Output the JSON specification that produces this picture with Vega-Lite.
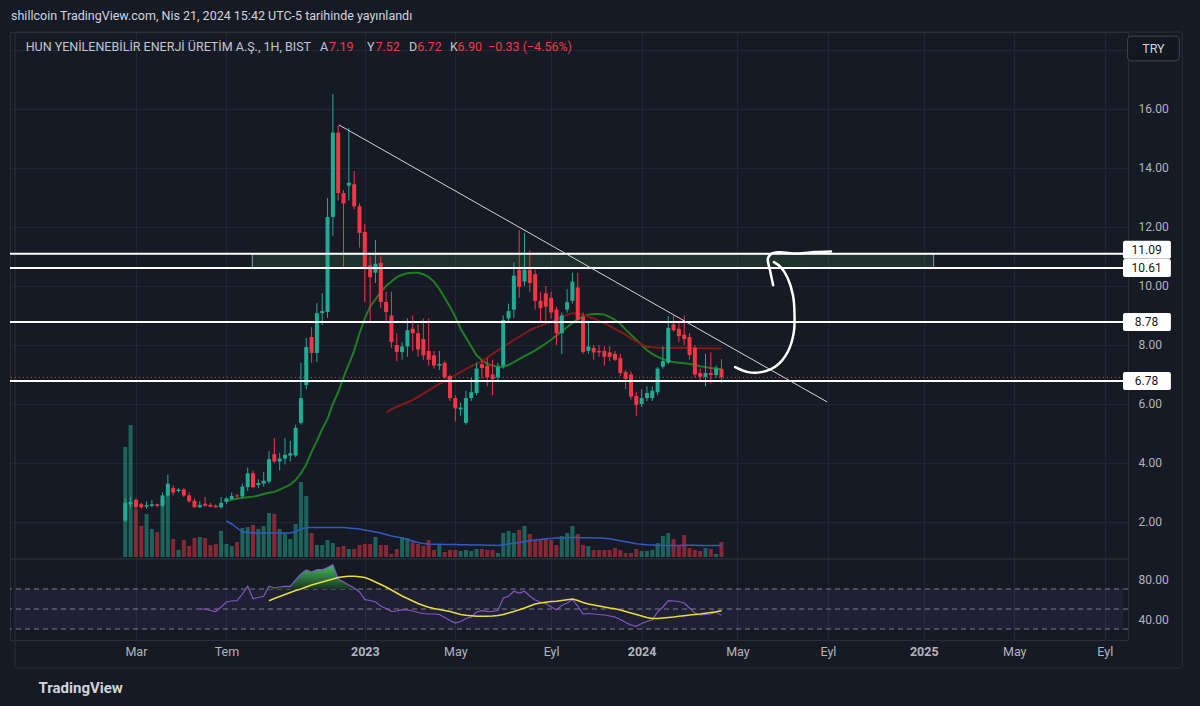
{
"$schema": "https://vega.github.io/schema/vega-lite/v6.json",
"width": 1118, "height": 608,
"autosize": {"type": "none"},
"padding": {"left": 10, "top": 32, "right": 72, "bottom": 66},
"background": "#161a25",
"config": {
  "view": {"stroke": "#2a2e39", "strokeWidth": 1},
  "font": "Roboto",
  "text": {"font": "Roboto"},
  "axis": {"labelFont": "Roboto", "titleFont": "Roboto"},
  "title": {"font": "Roboto"}
},
"title": {"text": "shillcoin TradingView.com, Nis 21, 2024 15:42 UTC-5 tarihinde yayınlandı", "anchor": "start", "frame": "group", "fontSize": 12.5, "fontWeight": "normal", "color": "#d1d4dc", "offset": 9, "dx": 1},
"datasets": {
  "k": [
    {"d":"2022-02-21","o":2.05,"h":2.80,"l":2.00,"c":2.65,"v":110},
    {"d":"2022-02-28","o":2.60,"h":2.85,"l":2.50,"c":2.68,"v":132},
    {"d":"2022-03-07","o":2.75,"h":2.80,"l":2.45,"c":2.50,"v":48},
    {"d":"2022-03-14","o":2.60,"h":2.65,"l":2.45,"c":2.50,"v":31},
    {"d":"2022-03-21","o":2.52,"h":2.70,"l":2.45,"c":2.57,"v":43},
    {"d":"2022-03-28","o":2.55,"h":2.75,"l":2.50,"c":2.60,"v":28},
    {"d":"2022-04-04","o":2.60,"h":2.62,"l":2.50,"c":2.55,"v":25},
    {"d":"2022-04-11","o":2.55,"h":3.00,"l":2.50,"c":2.90,"v":57},
    {"d":"2022-04-18","o":2.90,"h":3.60,"l":2.85,"c":3.30,"v":67},
    {"d":"2022-04-25","o":3.15,"h":3.25,"l":2.90,"c":3.00,"v":18},
    {"d":"2022-05-02","o":3.05,"h":3.15,"l":3.00,"c":3.10,"v":7},
    {"d":"2022-05-09","o":3.10,"h":3.15,"l":2.85,"c":2.90,"v":17},
    {"d":"2022-05-16","o":2.90,"h":3.00,"l":2.65,"c":2.70,"v":11},
    {"d":"2022-05-23","o":2.72,"h":2.80,"l":2.48,"c":2.50,"v":19},
    {"d":"2022-05-30","o":2.50,"h":2.70,"l":2.48,"c":2.58,"v":20,"rsi":50},
    {"d":"2022-06-06","o":2.62,"h":2.85,"l":2.52,"c":2.55,"v":19,"rsi":50},
    {"d":"2022-06-13","o":2.58,"h":2.65,"l":2.50,"c":2.52,"v":12,"rsi":48.5},
    {"d":"2022-06-20","o":2.55,"h":2.60,"l":2.48,"c":2.50,"v":13,"rsi":47.5},
    {"d":"2022-06-27","o":2.50,"h":2.85,"l":2.45,"c":2.65,"v":26,"rsi":52},
    {"d":"2022-07-04","o":2.68,"h":2.85,"l":2.60,"c":2.80,"v":13,"gma":2.71,"vma":36,"rsi":57},
    {"d":"2022-07-11","o":2.78,"h":3.00,"l":2.75,"c":2.88,"v":11,"gma":2.75,"vma":33,"rsi":58},
    {"d":"2022-07-18","o":2.90,"h":2.95,"l":2.80,"c":2.87,"v":15,"gma":2.79,"vma":29,"rsi":58.3},
    {"d":"2022-07-25","o":2.87,"h":3.30,"l":2.80,"c":3.20,"v":29,"gma":2.82,"vma":25,"rsi":65,"ob":70},
    {"d":"2022-08-01","o":3.18,"h":3.85,"l":3.05,"c":3.65,"v":30,"gma":2.84,"vma":24.5,"rsi":72.7,"ob":72.7},
    {"d":"2022-08-08","o":3.65,"h":3.75,"l":3.15,"c":3.18,"v":32,"gma":2.86,"vma":24,"rsi":60.3,"ob":70},
    {"d":"2022-08-15","o":3.25,"h":3.45,"l":3.15,"c":3.32,"v":28,"gma":2.90,"vma":24,"rsi":61.5,"ob":70},
    {"d":"2022-08-22","o":3.30,"h":3.70,"l":3.20,"c":3.40,"v":31,"gma":2.95,"vma":24,"rsi":62.7,"ob":70},
    {"d":"2022-08-29","o":3.37,"h":4.40,"l":3.30,"c":4.13,"v":44,"gma":2.99,"vma":24,"rsi":72.7,"rsma":58.3,"ob":72.7},
    {"d":"2022-09-05","o":4.30,"h":4.85,"l":4.00,"c":4.05,"v":43,"gma":3.02,"vma":24,"rsi":71,"rsma":60.5,"ob":71},
    {"d":"2022-09-12","o":4.05,"h":4.35,"l":3.75,"c":4.15,"v":28,"gma":3.10,"vma":24,"rsi":72,"rsma":62.5,"ob":72},
    {"d":"2022-09-19","o":4.15,"h":4.85,"l":3.95,"c":4.28,"v":24,"gma":3.18,"vma":24,"rsi":72.7,"rsma":64.5,"ob":72.7},
    {"d":"2022-09-26","o":4.25,"h":4.75,"l":4.05,"c":4.33,"v":18,"gma":3.27,"vma":24,"rsi":72.7,"rsma":66.5,"ob":72.7},
    {"d":"2022-10-03","o":4.25,"h":5.30,"l":4.20,"c":5.19,"v":33,"gma":3.42,"vma":25.5,"rsi":79,"rsma":68.5,"ob":79},
    {"d":"2022-10-10","o":5.36,"h":7.40,"l":5.30,"c":6.20,"v":75,"gma":3.65,"vma":28,"rsi":85,"rsma":70,"ob":85},
    {"d":"2022-10-17","o":6.64,"h":8.24,"l":6.50,"c":7.93,"v":61,"gma":3.95,"vma":29.5,"rsi":89,"rsma":72,"ob":89},
    {"d":"2022-10-24","o":8.27,"h":8.60,"l":7.40,"c":7.73,"v":24,"gma":4.38,"vma":29.5,"rsi":87,"rsma":74,"ob":87},
    {"d":"2022-10-31","o":7.73,"h":9.42,"l":7.42,"c":9.08,"v":12,"gma":4.75,"vma":29.5,"rsi":89.3,"rsma":75.5,"ob":89.3},
    {"d":"2022-11-07","o":9.08,"h":9.76,"l":8.68,"c":9.15,"v":12,"gma":5.15,"vma":29.5,"rsi":89.3,"rsma":77,"ob":89.3},
    {"d":"2022-11-14","o":9.12,"h":12.98,"l":8.92,"c":12.34,"v":17,"gma":5.50,"vma":29.5,"rsi":91.5,"rsma":78.5,"ob":91.5},
    {"d":"2022-11-21","o":12.34,"h":16.50,"l":11.70,"c":15.20,"v":14,"gma":6.00,"vma":29.5,"rsi":94.3,"rsma":80,"ob":94.3},
    {"d":"2022-11-28","o":15.20,"h":15.45,"l":12.90,"c":13.15,"v":10,"gma":6.40,"vma":29.5,"rsi":80,"rsma":81.5,"ob":80},
    {"d":"2022-12-05","o":13.15,"h":13.25,"l":10.65,"c":12.80,"v":11,"gma":6.90,"vma":29.5,"rsi":77,"rsma":82.3,"ob":77},
    {"d":"2022-12-12","o":13.40,"h":15.35,"l":12.90,"c":13.50,"v":8,"gma":7.35,"vma":29,"rsi":74,"rsma":82.7,"ob":74},
    {"d":"2022-12-19","o":13.45,"h":13.90,"l":12.60,"c":12.70,"v":8,"gma":7.80,"vma":28.5,"rsi":71,"rsma":82.7,"ob":71},
    {"d":"2022-12-26","o":12.70,"h":12.80,"l":11.30,"c":11.80,"v":12,"gma":8.40,"vma":28,"rsi":67,"rsma":82.3,"ob":70},
    {"d":"2023-01-02","o":11.83,"h":12.10,"l":9.46,"c":10.60,"v":13,"gma":8.90,"vma":27,"rsi":59.3,"rsma":81.5},
    {"d":"2023-01-09","o":10.70,"h":11.00,"l":8.75,"c":10.30,"v":13,"gma":9.30,"vma":26,"rsi":58.5,"rsma":79.5},
    {"d":"2023-01-16","o":10.45,"h":11.56,"l":10.10,"c":10.75,"v":20,"gma":9.55,"vma":25,"rsi":57,"rsma":77},
    {"d":"2023-01-23","o":10.78,"h":11.00,"l":9.25,"c":9.46,"v":12,"gma":9.80,"vma":24,"rsi":53,"rsma":74.5},
    {"d":"2023-01-30","o":9.46,"h":9.80,"l":8.75,"c":9.12,"v":12,"gma":10.00,"rma":5.72,"vma":22.5,"rsi":50.5,"rsma":72},
    {"d":"2023-02-06","o":9.00,"h":9.80,"l":7.90,"c":8.10,"v":3,"gma":10.15,"rma":5.82,"vma":21,"rsi":47.7,"rsma":69},
    {"d":"2023-02-13","o":8.00,"h":8.40,"l":7.45,"c":7.76,"v":8,"gma":10.30,"rma":5.90,"vma":20,"rsi":48,"rsma":66},
    {"d":"2023-02-20","o":7.76,"h":8.10,"l":7.50,"c":7.95,"v":20,"gma":10.38,"rma":5.98,"vma":19,"rsi":49.3,"rsma":63},
    {"d":"2023-02-27","o":7.95,"h":8.90,"l":7.60,"c":8.50,"v":19,"gma":10.43,"rma":6.06,"vma":17.5,"rsi":49,"rsma":60.5},
    {"d":"2023-03-06","o":8.55,"h":9.00,"l":7.80,"c":8.40,"v":15,"gma":10.45,"rma":6.13,"vma":16,"rsi":48,"rsma":58},
    {"d":"2023-03-13","o":8.40,"h":8.70,"l":7.60,"c":7.85,"v":13,"gma":10.45,"rma":6.24,"vma":14.5,"rsi":46.5,"rsma":55.5},
    {"d":"2023-03-20","o":8.20,"h":8.90,"l":7.50,"c":7.65,"v":11,"gma":10.40,"rma":6.35,"vma":13.5,"rsi":45.5,"rsma":53.5},
    {"d":"2023-03-27","o":7.80,"h":8.90,"l":7.30,"c":7.50,"v":17,"gma":10.30,"rma":6.46,"vma":13,"rsi":45,"rsma":51.7},
    {"d":"2023-04-03","o":7.65,"h":7.80,"l":7.20,"c":7.30,"v":7,"gma":10.15,"rma":6.57,"vma":12.8,"rsi":45,"rsma":50.5},
    {"d":"2023-04-10","o":7.30,"h":7.80,"l":7.15,"c":7.36,"v":13,"gma":9.90,"rma":6.68,"vma":12.7,"rsi":44.5,"rsma":49.5},
    {"d":"2023-04-17","o":7.40,"h":7.45,"l":6.85,"c":6.90,"v":5,"gma":9.60,"rma":6.77,"vma":12.6,"rsi":41.5,"rsma":48.5},
    {"d":"2023-04-24","o":6.95,"h":7.00,"l":6.10,"c":6.20,"v":7,"gma":9.30,"rma":6.88,"vma":12.5,"rsi":38.5,"rsma":47.5},
    {"d":"2023-05-01","o":6.20,"h":6.30,"l":5.40,"c":5.85,"v":7,"gma":8.95,"rma":6.98,"vma":12.4,"rsi":36,"rsma":46},
    {"d":"2023-05-08","o":5.82,"h":6.05,"l":5.60,"c":5.88,"v":6,"gma":8.55,"rma":7.08,"vma":12.3,"rsi":37.5,"rsma":44.5},
    {"d":"2023-05-15","o":5.36,"h":6.45,"l":5.30,"c":6.20,"v":7,"gma":8.25,"rma":7.18,"vma":12.2,"rsi":40.5,"rsma":43.7},
    {"d":"2023-05-22","o":6.20,"h":6.90,"l":6.10,"c":6.40,"v":6,"gma":7.95,"rma":7.28,"vma":12.1,"rsi":42,"rsma":43.2},
    {"d":"2023-05-29","o":6.37,"h":7.40,"l":6.30,"c":7.20,"v":8,"gma":7.65,"rma":7.36,"vma":12,"rsi":47,"rsma":42.8},
    {"d":"2023-06-05","o":7.35,"h":7.50,"l":6.85,"c":7.22,"v":8,"gma":7.48,"rma":7.45,"vma":11.9,"rsi":48.3,"rsma":42.7},
    {"d":"2023-06-12","o":7.30,"h":7.55,"l":6.60,"c":6.90,"v":7,"gma":7.36,"rma":7.57,"vma":11.8,"rsi":47.7,"rsma":42.7},
    {"d":"2023-06-19","o":7.00,"h":7.50,"l":6.30,"c":6.85,"v":7,"gma":7.30,"rma":7.70,"vma":11.7,"rsi":47.5,"rsma":43},
    {"d":"2023-06-26","o":6.90,"h":7.40,"l":6.80,"c":7.25,"v":4,"gma":7.26,"rma":7.82,"vma":11.6,"rsi":48.5,"rsma":43.5},
    {"d":"2023-07-03","o":7.30,"h":9.00,"l":7.20,"c":8.85,"v":24,"gma":7.26,"rma":7.94,"vma":12.2,"rsi":61,"rsma":44.5},
    {"d":"2023-07-10","o":8.90,"h":9.40,"l":8.80,"c":9.15,"v":26,"gma":7.32,"rma":8.05,"vma":13,"rsi":62.7,"rsma":46},
    {"d":"2023-07-17","o":9.20,"h":10.80,"l":8.90,"c":10.35,"v":24,"gma":7.42,"rma":8.17,"vma":13.8,"rsi":67.7,"rsma":47.5},
    {"d":"2023-07-24","o":10.55,"h":11.90,"l":9.60,"c":9.97,"v":27,"gma":7.52,"rma":8.28,"vma":14.5,"rsi":66,"rsma":49.3},
    {"d":"2023-07-31","o":10.15,"h":11.80,"l":10.00,"c":10.55,"v":31,"gma":7.62,"rma":8.39,"vma":15.3,"rsi":67.7,"rsma":51},
    {"d":"2023-08-07","o":10.55,"h":11.20,"l":9.80,"c":10.10,"v":23,"gma":7.72,"rma":8.50,"vma":16.2,"rsi":63,"rsma":53},
    {"d":"2023-08-14","o":10.40,"h":10.55,"l":9.20,"c":9.50,"v":17,"gma":7.82,"rma":8.58,"vma":17,"rsi":59,"rsma":55},
    {"d":"2023-08-21","o":9.50,"h":9.80,"l":8.75,"c":9.25,"v":17,"gma":7.93,"rma":8.65,"vma":17.6,"rsi":57,"rsma":56},
    {"d":"2023-08-28","o":9.75,"h":10.00,"l":8.80,"c":9.30,"v":18,"gma":8.05,"rma":8.72,"vma":18.2,"rsi":55.5,"rsma":56.8},
    {"d":"2023-09-04","o":9.60,"h":9.80,"l":8.90,"c":9.10,"v":17,"gma":8.18,"rma":8.79,"vma":18.6,"rsi":52,"rsma":57.5},
    {"d":"2023-09-11","o":9.20,"h":9.30,"l":8.00,"c":8.40,"v":12,"gma":8.32,"rma":8.85,"vma":18.9,"rsi":49.3,"rsma":57.8},
    {"d":"2023-09-18","o":8.40,"h":9.10,"l":7.70,"c":9.00,"v":21,"gma":8.47,"rma":8.94,"vma":19.1,"rsi":53.5,"rsma":58.5},
    {"d":"2023-09-25","o":9.20,"h":9.90,"l":9.10,"c":9.45,"v":24,"gma":8.60,"rma":9.02,"vma":19.3,"rsi":56,"rsma":59.3},
    {"d":"2023-10-02","o":9.50,"h":10.45,"l":9.40,"c":10.15,"v":31,"gma":8.75,"rma":9.08,"vma":19.4,"rsi":59.3,"rsma":60},
    {"d":"2023-10-09","o":9.95,"h":10.45,"l":8.80,"c":8.85,"v":23,"gma":8.88,"rma":9.07,"vma":19.4,"rsi":53,"rsma":58.5},
    {"d":"2023-10-16","o":8.95,"h":9.10,"l":7.70,"c":7.76,"v":12,"gma":8.97,"rma":9.02,"vma":19.3,"rsi":45,"rsma":56.5},
    {"d":"2023-10-23","o":7.80,"h":8.80,"l":7.70,"c":7.95,"v":11,"gma":9.03,"rma":8.96,"vma":19.2,"rsi":45.5,"rsma":55},
    {"d":"2023-10-30","o":7.90,"h":8.00,"l":7.50,"c":7.75,"v":7,"gma":9.05,"rma":8.90,"vma":19.1,"rsi":45,"rsma":54},
    {"d":"2023-11-06","o":7.80,"h":8.00,"l":7.60,"c":7.75,"v":7,"gma":9.05,"rma":8.82,"vma":19,"rsi":44.5,"rsma":53},
    {"d":"2023-11-13","o":7.80,"h":7.95,"l":7.30,"c":7.60,"v":7,"gma":9.03,"rma":8.74,"vma":18.8,"rsi":44,"rsma":52},
    {"d":"2023-11-20","o":7.75,"h":7.95,"l":7.45,"c":7.60,"v":7,"gma":8.95,"rma":8.65,"vma":18.2,"rsi":43,"rsma":51},
    {"d":"2023-11-27","o":7.70,"h":7.80,"l":7.45,"c":7.50,"v":9,"gma":8.85,"rma":8.55,"vma":17.3,"rsi":42,"rsma":50.3},
    {"d":"2023-12-04","o":7.55,"h":7.70,"l":6.95,"c":7.05,"v":7,"gma":8.72,"rma":8.45,"vma":16.3,"rsi":39.5,"rsma":49},
    {"d":"2023-12-11","o":7.08,"h":7.15,"l":6.50,"c":6.85,"v":4,"gma":8.52,"rma":8.35,"vma":15.2,"rsi":36.5,"rsma":47.5},
    {"d":"2023-12-18","o":7.00,"h":7.10,"l":6.15,"c":6.25,"v":4,"gma":8.35,"rma":8.22,"vma":14.2,"rsi":34,"rsma":46},
    {"d":"2023-12-25","o":6.27,"h":6.40,"l":5.60,"c":5.97,"v":8,"gma":8.18,"rma":8.12,"vma":13.3,"rsi":32.7,"rsma":44.5},
    {"d":"2024-01-01","o":6.00,"h":6.50,"l":5.90,"c":6.20,"v":6,"gma":8.00,"rma":8.02,"vma":12.7,"rsi":35.5,"rsma":43},
    {"d":"2024-01-08","o":6.20,"h":6.60,"l":6.10,"c":6.37,"v":6,"gma":7.82,"rma":7.94,"vma":12.2,"rsi":37.5,"rsma":41.5},
    {"d":"2024-01-15","o":6.20,"h":6.60,"l":6.10,"c":6.45,"v":7,"gma":7.70,"rma":7.92,"vma":11.9,"rsi":39.3,"rsma":40.5},
    {"d":"2024-01-22","o":6.40,"h":7.25,"l":6.30,"c":7.20,"v":14,"gma":7.60,"rma":7.91,"vma":11.7,"rsi":47,"rsma":40.5},
    {"d":"2024-01-29","o":7.27,"h":7.95,"l":7.20,"c":7.45,"v":21,"gma":7.52,"rma":7.90,"vma":11.6,"rsi":52,"rsma":41},
    {"d":"2024-02-05","o":7.40,"h":8.98,"l":7.35,"c":8.58,"v":24,"gma":7.46,"rma":7.90,"vma":11.6,"rsi":58.3,"rsma":41.5},
    {"d":"2024-02-12","o":8.70,"h":9.00,"l":8.45,"c":8.50,"v":18,"gma":7.42,"rma":7.90,"vma":11.6,"rsi":58,"rsma":42},
    {"d":"2024-02-19","o":8.55,"h":8.80,"l":8.10,"c":8.30,"v":12,"gma":7.40,"rma":7.91,"vma":11.6,"rsi":57.5,"rsma":42.7},
    {"d":"2024-02-26","o":8.35,"h":9.00,"l":8.00,"c":8.20,"v":22,"gma":7.38,"rma":7.91,"vma":11.7,"rsi":56,"rsma":43.3},
    {"d":"2024-03-04","o":8.27,"h":8.40,"l":7.50,"c":7.66,"v":9,"gma":7.36,"rma":7.90,"vma":11.7,"rsi":51,"rsma":44},
    {"d":"2024-03-11","o":7.90,"h":8.00,"l":6.90,"c":7.00,"v":7,"gma":7.32,"rma":7.90,"vma":11.7,"rsi":46,"rsma":44.5},
    {"d":"2024-03-18","o":7.05,"h":7.20,"l":6.80,"c":6.92,"v":6,"gma":7.28,"rma":7.89,"vma":11.6,"rsi":44,"rsma":45},
    {"d":"2024-03-25","o":6.92,"h":7.70,"l":6.60,"c":7.05,"v":9,"gma":7.25,"rma":7.89,"vma":11.6,"rsi":44.5,"rsma":45.8},
    {"d":"2024-04-01","o":7.05,"h":7.75,"l":6.70,"c":6.98,"v":8,"gma":7.22,"rma":7.88,"vma":11.6,"rsi":45,"rsma":46.5},
    {"d":"2024-04-08","o":6.98,"h":7.30,"l":6.90,"c":7.20,"v":3,"gma":7.20,"rma":7.88,"vma":11.5,"rsi":46.7,"rsma":47.3},
    {"d":"2024-04-15","o":7.19,"h":7.52,"l":6.72,"c":6.90,"v":15,"gma":7.18,"rma":7.88,"vma":11.5,"rsi":43.7,"rsma":48.3}
  ],
  "levels": [{"level": 11.09}, {"level": 10.61}, {"level": 8.78}, {"level": 6.78}],
  "trend": [{"d": "2022-11-29", "p": 15.46}, {"d": "2024-09-01", "p": 6.07}],
  "arrow": [
    {"s":"a","k":1,"d":"2024-05-03","p":7.25},
    {"s":"a","k":2,"d":"2024-05-20","p":7.08},
    {"s":"a","k":3,"d":"2024-06-06","p":7.08},
    {"s":"a","k":4,"d":"2024-06-26","p":7.29},
    {"s":"a","k":5,"d":"2024-07-11","p":7.76},
    {"s":"a","k":6,"d":"2024-07-19","p":8.41},
    {"s":"a","k":7,"d":"2024-07-20","p":9.08},
    {"s":"a","k":8,"d":"2024-07-18","p":9.69},
    {"s":"a","k":9,"d":"2024-07-11","p":10.27},
    {"s":"a","k":10,"d":"2024-07-02","p":10.64},
    {"s":"a","k":11,"d":"2024-06-23","p":10.81},
    {"s":"b","k":1,"d":"2024-06-22","p":10.03},
    {"s":"b","k":2,"d":"2024-06-18","p":10.51},
    {"s":"b","k":3,"d":"2024-06-15","p":10.92},
    {"s":"b","k":4,"d":"2024-06-19","p":11.08},
    {"s":"b","k":5,"d":"2024-06-29","p":11.14},
    {"s":"b","k":6,"d":"2024-07-24","p":11.10},
    {"s":"b","k":7,"d":"2024-08-16","p":11.15},
    {"s":"b","k":8,"d":"2024-09-06","p":11.17}
  ]
},
"resolve": {"scale": {"y": "independent"}, "axis": {"y": "independent"}},
"layer": [
  {
    "layer": [
      {
        "data": {"name": "k"},
        "mark": {"type": "bar", "width": 4, "opacity": 0.5},
        "encoding": {
          "x": {"field": "d", "type": "temporal",
                "scale": {"type": "utc", "domain": [{"year":2021,"month":9,"date":29,"utc":true},{"year":2025,"month":9,"date":25,"utc":true}]},
                "axis": {
                  "values": [
                    {"year":2022,"month":3,"date":7,"utc":true},
                    {"year":2022,"month":7,"date":4,"utc":true},
                    {"year":2023,"month":1,"date":2,"utc":true},
                    {"year":2023,"month":5,"date":1,"utc":true},
                    {"year":2023,"month":9,"date":4,"utc":true},
                    {"year":2024,"month":1,"date":1,"utc":true},
                    {"year":2024,"month":5,"date":6,"utc":true},
                    {"year":2024,"month":9,"date":2,"utc":true},
                    {"year":2025,"month":1,"date":6,"utc":true},
                    {"year":2025,"month":5,"date":5,"utc":true},
                    {"year":2025,"month":9,"date":1,"utc":true}
                  ],
                  "labelExpr": "utcmonth(datum.value) == 0 ? utcFormat(datum.value, '%Y') : ['Oca','Şub','Mar','Nis','May','Haz','Tem','Ağu','Eyl','Eki','Kas','Ara'][utcmonth(datum.value)]",
                  "labelColor": "#b2b5be",
                  "labelFontSize": 12.5,
                  "labelFontWeight": {"condition": {"test": "utcmonth(datum.value) == 0", "value": "bold"}, "value": "normal"},
                  "labelPadding": 5,
                  "labelFlush": false,
                  "labelOverlap": false,
                  "labelBound": false,
                  "ticks": false,
                  "domain": false,
                  "grid": true,
                  "gridColor": "#232632",
                  "gridWidth": 1,
                  "title": "TradingView",
                  "titleX": 28,
                  "titleY": 47,
                  "titleAlign": "left",
                  "titleBaseline": "middle",
                  "titleFontSize": 15,
                  "titleFontWeight": "bold",
                  "titleColor": "#d1d4dc"
                }},
          "y": {"field": "v", "type": "quantitative", "scale": {"domain": [-83, 525], "nice": false, "zero": false}, "axis": null},
          "y2": {"datum": 0},
          "color": {"condition": {"test": "datum.c >= datum.o", "value": "#22ab94"}, "value": "#f23645"}
        }
      },
      {
        "data": {"name": "k"},
        "mark": {"type": "line", "color": "#3458c4", "strokeWidth": 1.5},
        "encoding": {
          "x": {"field": "d", "type": "temporal", "scale": {"type": "utc", "domain": [{"year":2021,"month":9,"date":29,"utc":true},{"year":2025,"month":9,"date":25,"utc":true}]}},
          "y": {"field": "vma", "type": "quantitative", "scale": {"domain": [-83, 525], "nice": false, "zero": false}}
        }
      },
      {
        "data": {"values": [{}]},
        "mark": {"type": "rule", "color": "#2a2e39", "strokeWidth": 1.5},
        "encoding": {
          "y": {"datum": -2, "type": "quantitative", "scale": {"domain": [-83, 525], "nice": false, "zero": false}}
        }
      }
    ]
  },
  {
    "layer": [
      {
        "data": {"values": [{}]},
        "mark": {"type": "rect", "color": "#7e57c2", "opacity": 0.1},
        "encoding": {
          "x": {"datum": {"year":2021,"month":9,"date":29,"utc":true}, "type": "temporal", "scale": {"type": "utc", "domain": [{"year":2021,"month":9,"date":29,"utc":true},{"year":2025,"month":9,"date":25,"utc":true}]}},
          "x2": {"datum": {"year":2025,"month":9,"date":25,"utc":true}},
          "y": {"datum": 70, "type": "quantitative", "scale": {"domain": [19, 627], "nice": false, "zero": false}},
          "y2": {"datum": 30}
        }
      },
      {
        "data": {"values": [{"lv": 70}, {"lv": 50}, {"lv": 30}]},
        "mark": {"type": "rule", "color": "#787b86", "strokeWidth": 1, "strokeDash": [5, 4]},
        "encoding": {
          "y": {"field": "lv", "type": "quantitative", "scale": {"domain": [19, 627], "nice": false, "zero": false},
                "axis": {"orient": "right", "values": [40, 80], "format": ".2f", "labelColor": "#b2b5be", "labelFontSize": 12, "labelPadding": 10, "ticks": false, "domain": false, "grid": false, "title": null}}
        }
      },
      {
        "data": {"name": "k"},
        "mark": {"type": "area", "color": {"x1": 0, "y1": 0, "x2": 0, "y2": 1, "gradient": "linear", "stops": [{"offset": 0, "color": "#45bf5c"}, {"offset": 1, "color": "#173524"}]}},
        "encoding": {
          "x": {"field": "d", "type": "temporal", "scale": {"type": "utc", "domain": [{"year":2021,"month":9,"date":29,"utc":true},{"year":2025,"month":9,"date":25,"utc":true}]}},
          "y": {"field": "ob", "type": "quantitative", "scale": {"domain": [19, 627], "nice": false, "zero": false}},
          "y2": {"datum": 70}
        }
      },
      {
        "data": {"name": "k"},
        "mark": {"type": "line", "color": "#7e57c2", "strokeWidth": 1.2},
        "encoding": {
          "x": {"field": "d", "type": "temporal", "scale": {"type": "utc", "domain": [{"year":2021,"month":9,"date":29,"utc":true},{"year":2025,"month":9,"date":25,"utc":true}]}},
          "y": {"field": "rsi", "type": "quantitative", "scale": {"domain": [19, 627], "nice": false, "zero": false}}
        }
      },
      {
        "data": {"name": "k"},
        "mark": {"type": "line", "color": "#e6dc3c", "strokeWidth": 1.5},
        "encoding": {
          "x": {"field": "d", "type": "temporal", "scale": {"type": "utc", "domain": [{"year":2021,"month":9,"date":29,"utc":true},{"year":2025,"month":9,"date":25,"utc":true}]}},
          "y": {"field": "rsma", "type": "quantitative", "scale": {"domain": [19, 627], "nice": false, "zero": false}}
        }
      }
    ]
  },
  {
    "layer": [
      {
        "data": {"values": [{}]},
        "mark": {"type": "rect", "fill": "#4caf50", "fillOpacity": 0.16, "stroke": "#9598a1", "strokeWidth": 1},
        "encoding": {
          "x": {"datum": {"year":2022,"month":8,"date":7,"utc":true}, "type": "temporal", "scale": {"type": "utc", "domain": [{"year":2021,"month":9,"date":29,"utc":true},{"year":2025,"month":9,"date":25,"utc":true}]}},
          "x2": {"datum": {"year":2025,"month":1,"date":19,"utc":true}},
          "y": {"datum": 10.61, "type": "quantitative", "scale": {"domain": [-2.0, 18.61], "nice": false, "zero": false},
                "axis": {"orient": "right", "values": [2, 4, 6, 8, 10, 12, 14, 16, 18],
                         "labelExpr": "datum.value > 17 ? '' : format(datum.value, '.2f')",
                         "labelColor": "#b2b5be", "labelFontSize": 12, "labelPadding": 10,
                         "ticks": false, "domain": false, "grid": true, "gridColor": "#232632",
                         "title": null}},
          "y2": {"datum": 11.09}
        }
      },
      {
        "data": {"values": [{}]},
        "mark": {"type": "rect", "fill": "#161a25", "fillOpacity": 0, "stroke": "#2a2e39", "strokeWidth": 1, "cornerRadius": 3},
        "encoding": {
          "x": {"datum": {"year":2021,"month":9,"date":29,"utc":true}, "type": "temporal", "scale": {"type": "utc", "domain": [{"year":2021,"month":9,"date":29,"utc":true},{"year":2025,"month":9,"date":25,"utc":true}]}},
          "x2": {"datum": {"year":2025,"month":12,"date":12,"utc":true}},
          "y": {"datum": 18.61, "type": "quantitative", "scale": {"domain": [-2.0, 18.61], "nice": false, "zero": false}},
          "y2": {"datum": -2.95}
        }
      },
      {
        "data": {"values": [{}]},
        "mark": {"type": "rect", "fill": "#131722", "stroke": "#434651", "strokeWidth": 1, "cornerRadius": 4},
        "encoding": {
          "x": {"datum": {"year":2025,"month":10,"date":1,"utc":true}, "type": "temporal", "scale": {"type": "utc", "domain": [{"year":2021,"month":9,"date":29,"utc":true},{"year":2025,"month":9,"date":25,"utc":true}]}},
          "x2": {"datum": {"year":2025,"month":12,"date":8,"utc":true}},
          "y": {"datum": 18.47, "type": "quantitative", "scale": {"domain": [-2.0, 18.61], "nice": false, "zero": false}},
          "y2": {"datum": 17.63}
        }
      },
      {
        "data": {"values": [{}]},
        "mark": {"type": "text", "text": "TRY", "color": "#d1d4dc", "fontSize": 12.5, "align": "center", "baseline": "middle"},
        "encoding": {
          "x": {"datum": {"year":2025,"month":11,"date":4,"utc":true}, "type": "temporal", "scale": {"type": "utc", "domain": [{"year":2021,"month":9,"date":29,"utc":true},{"year":2025,"month":9,"date":25,"utc":true}]}},
          "y": {"datum": 18.05, "type": "quantitative", "scale": {"domain": [-2.0, 18.61], "nice": false, "zero": false}}
        }
      },
      {
        "data": {"name": "k"},
        "mark": {"type": "line", "color": "#1e7d22", "strokeWidth": 2},
        "encoding": {
          "x": {"field": "d", "type": "temporal", "scale": {"type": "utc", "domain": [{"year":2021,"month":9,"date":29,"utc":true},{"year":2025,"month":9,"date":25,"utc":true}]}},
          "y": {"field": "gma", "type": "quantitative", "scale": {"domain": [-2.0, 18.61], "nice": false, "zero": false}}
        }
      },
      {
        "data": {"name": "k"},
        "mark": {"type": "line", "color": "#861818", "strokeWidth": 2},
        "encoding": {
          "x": {"field": "d", "type": "temporal", "scale": {"type": "utc", "domain": [{"year":2021,"month":9,"date":29,"utc":true},{"year":2025,"month":9,"date":25,"utc":true}]}},
          "y": {"field": "rma", "type": "quantitative", "scale": {"domain": [-2.0, 18.61], "nice": false, "zero": false}}
        }
      },
      {
        "data": {"values": [{}]},
        "mark": {"type": "rule", "color": "#f23645", "strokeWidth": 1, "strokeDash": [1, 3]},
        "encoding": {
          "y": {"datum": 6.90, "type": "quantitative", "scale": {"domain": [-2.0, 18.61], "nice": false, "zero": false}}
        }
      },
      {
        "data": {"name": "k"},
        "mark": {"type": "rule", "strokeWidth": 1},
        "encoding": {
          "x": {"field": "d", "type": "temporal", "scale": {"type": "utc", "domain": [{"year":2021,"month":9,"date":29,"utc":true},{"year":2025,"month":9,"date":25,"utc":true}]}},
          "y": {"field": "l", "type": "quantitative", "scale": {"domain": [-2.0, 18.61], "nice": false, "zero": false}},
          "y2": {"field": "h"},
          "color": {"condition": {"test": "datum.c >= datum.o", "value": "#22ab94"}, "value": "#f23645"}
        }
      },
      {
        "data": {"name": "k"},
        "mark": {"type": "bar", "width": 4},
        "encoding": {
          "x": {"field": "d", "type": "temporal", "scale": {"type": "utc", "domain": [{"year":2021,"month":9,"date":29,"utc":true},{"year":2025,"month":9,"date":25,"utc":true}]}},
          "y": {"field": "o", "type": "quantitative", "scale": {"domain": [-2.0, 18.61], "nice": false, "zero": false}},
          "y2": {"field": "c"},
          "color": {"condition": {"test": "datum.c >= datum.o", "value": "#22ab94"}, "value": "#f23645"}
        }
      },
      {
        "data": {"name": "levels"},
        "mark": {"type": "rule", "color": "#ffffff", "strokeWidth": 2},
        "encoding": {
          "y": {"field": "level", "type": "quantitative", "scale": {"domain": [-2.0, 18.61], "nice": false, "zero": false}}
        }
      },
      {
        "data": {"name": "trend"},
        "mark": {"type": "line", "color": "#d1d4dc", "strokeWidth": 1},
        "encoding": {
          "x": {"field": "d", "type": "temporal", "scale": {"type": "utc", "domain": [{"year":2021,"month":9,"date":29,"utc":true},{"year":2025,"month":9,"date":25,"utc":true}]}},
          "y": {"field": "p", "type": "quantitative", "scale": {"domain": [-2.0, 18.61], "nice": false, "zero": false}}
        }
      },
      {
        "data": {"name": "arrow"},
        "mark": {"type": "line", "color": "#ffffff", "strokeWidth": 2.5, "strokeCap": "round", "strokeJoin": "round", "interpolate": "catmull-rom"},
        "encoding": {
          "x": {"field": "d", "type": "temporal", "scale": {"type": "utc", "domain": [{"year":2021,"month":9,"date":29,"utc":true},{"year":2025,"month":9,"date":25,"utc":true}]}},
          "y": {"field": "p", "type": "quantitative", "scale": {"domain": [-2.0, 18.61], "nice": false, "zero": false}},
          "detail": {"field": "s"},
          "order": {"field": "k"}
        }
      },
      {
        "data": {"name": "levels"},
        "transform": [{"filter": "datum.level < 11"}],
        "mark": {"type": "rect", "fill": "#ffffff", "cornerRadius": 2, "yOffset": -9, "y2Offset": 9},
        "encoding": {
          "x": {"datum": {"year":2025,"month":9,"date":25,"utc":true}, "type": "temporal", "scale": {"type": "utc", "domain": [{"year":2021,"month":9,"date":29,"utc":true},{"year":2025,"month":9,"date":25,"utc":true}]}},
          "x2": {"datum": {"year":2025,"month":11,"date":27,"utc":true}},
          "y": {"field": "level", "type": "quantitative", "scale": {"domain": [-2.0, 18.61], "nice": false, "zero": false}},
          "y2": {"field": "level"}
        }
      },
      {
        "data": {"name": "levels"},
        "transform": [{"filter": "datum.level > 11"}],
        "mark": {"type": "rect", "fill": "#ffffff", "cornerRadius": 2, "yOffset": -13, "y2Offset": 5},
        "encoding": {
          "x": {"datum": {"year":2025,"month":9,"date":25,"utc":true}, "type": "temporal", "scale": {"type": "utc", "domain": [{"year":2021,"month":9,"date":29,"utc":true},{"year":2025,"month":9,"date":25,"utc":true}]}},
          "x2": {"datum": {"year":2025,"month":11,"date":27,"utc":true}},
          "y": {"field": "level", "type": "quantitative", "scale": {"domain": [-2.0, 18.61], "nice": false, "zero": false}},
          "y2": {"field": "level"}
        }
      },
      {
        "data": {"name": "levels"},
        "transform": [{"filter": "datum.level < 11"}],
        "mark": {"type": "text", "color": "#131722", "fontSize": 12, "align": "center", "baseline": "middle"},
        "encoding": {
          "x": {"datum": {"year":2025,"month":10,"date":26,"utc":true}, "type": "temporal", "scale": {"type": "utc", "domain": [{"year":2021,"month":9,"date":29,"utc":true},{"year":2025,"month":9,"date":25,"utc":true}]}},
          "y": {"field": "level", "type": "quantitative", "scale": {"domain": [-2.0, 18.61], "nice": false, "zero": false}},
          "text": {"field": "level", "type": "quantitative", "format": ".2f"}
        }
      },
      {
        "data": {"name": "levels"},
        "transform": [{"filter": "datum.level > 11"}],
        "mark": {"type": "text", "color": "#131722", "fontSize": 12, "align": "center", "baseline": "middle", "dy": -4},
        "encoding": {
          "x": {"datum": {"year":2025,"month":10,"date":26,"utc":true}, "type": "temporal", "scale": {"type": "utc", "domain": [{"year":2021,"month":9,"date":29,"utc":true},{"year":2025,"month":9,"date":25,"utc":true}]}},
          "y": {"field": "level", "type": "quantitative", "scale": {"domain": [-2.0, 18.61], "nice": false, "zero": false}},
          "text": {"field": "level", "type": "quantitative", "format": ".2f"}
        }
      },
      {
        "data": {"values": [{}]},
        "mark": {"type": "text", "text": "HUN YENİLENEBİLİR ENERJİ ÜRETİM A.Ş., 1H, BIST", "color": "#c3c6cd", "fontSize": 12.5, "align": "left", "baseline": "middle"},
        "encoding": {
          "x": {"datum": {"year":2021,"month":10,"date":13,"utc":true}, "type": "temporal", "scale": {"type": "utc", "domain": [{"year":2021,"month":9,"date":29,"utc":true},{"year":2025,"month":9,"date":25,"utc":true}]}},
          "y": {"datum": 18.1, "type": "quantitative", "scale": {"domain": [-2.0, 18.61], "nice": false, "zero": false}}
        }
      },
      {
        "data": {"values": [{}]},
        "mark": {"type": "text", "text": "A", "color": "#c3c6cd", "fontSize": 12.5, "align": "left", "baseline": "middle"},
        "encoding": {
          "x": {"datum": {"year":2022,"month":11,"date":4,"utc":true}, "type": "temporal", "scale": {"type": "utc", "domain": [{"year":2021,"month":9,"date":29,"utc":true},{"year":2025,"month":9,"date":25,"utc":true}]}},
          "y": {"datum": 18.1, "type": "quantitative", "scale": {"domain": [-2.0, 18.61], "nice": false, "zero": false}}
        }
      },
      {
        "data": {"values": [{}]},
        "mark": {"type": "text", "text": "7.19", "color": "#f23645", "fontSize": 12.5, "align": "left", "baseline": "middle"},
        "encoding": {
          "x": {"datum": {"year":2022,"month":11,"date":16,"utc":true}, "type": "temporal", "scale": {"type": "utc", "domain": [{"year":2021,"month":9,"date":29,"utc":true},{"year":2025,"month":9,"date":25,"utc":true}]}},
          "y": {"datum": 18.1, "type": "quantitative", "scale": {"domain": [-2.0, 18.61], "nice": false, "zero": false}}
        }
      },
      {
        "data": {"values": [{}]},
        "mark": {"type": "text", "text": "Y", "color": "#c3c6cd", "fontSize": 12.5, "align": "left", "baseline": "middle"},
        "encoding": {
          "x": {"datum": {"year":2023,"month":1,"date":5,"utc":true}, "type": "temporal", "scale": {"type": "utc", "domain": [{"year":2021,"month":9,"date":29,"utc":true},{"year":2025,"month":9,"date":25,"utc":true}]}},
          "y": {"datum": 18.1, "type": "quantitative", "scale": {"domain": [-2.0, 18.61], "nice": false, "zero": false}}
        }
      },
      {
        "data": {"values": [{}]},
        "mark": {"type": "text", "text": "7.52", "color": "#f23645", "fontSize": 12.5, "align": "left", "baseline": "middle"},
        "encoding": {
          "x": {"datum": {"year":2023,"month":1,"date":16,"utc":true}, "type": "temporal", "scale": {"type": "utc", "domain": [{"year":2021,"month":9,"date":29,"utc":true},{"year":2025,"month":9,"date":25,"utc":true}]}},
          "y": {"datum": 18.1, "type": "quantitative", "scale": {"domain": [-2.0, 18.61], "nice": false, "zero": false}}
        }
      },
      {
        "data": {"values": [{}]},
        "mark": {"type": "text", "text": "D", "color": "#c3c6cd", "fontSize": 12.5, "align": "left", "baseline": "middle"},
        "encoding": {
          "x": {"datum": {"year":2023,"month":3,"date":1,"utc":true}, "type": "temporal", "scale": {"type": "utc", "domain": [{"year":2021,"month":9,"date":29,"utc":true},{"year":2025,"month":9,"date":25,"utc":true}]}},
          "y": {"datum": 18.1, "type": "quantitative", "scale": {"domain": [-2.0, 18.61], "nice": false, "zero": false}}
        }
      },
      {
        "data": {"values": [{}]},
        "mark": {"type": "text", "text": "6.72", "color": "#f23645", "fontSize": 12.5, "align": "left", "baseline": "middle"},
        "encoding": {
          "x": {"datum": {"year":2023,"month":3,"date":12,"utc":true}, "type": "temporal", "scale": {"type": "utc", "domain": [{"year":2021,"month":9,"date":29,"utc":true},{"year":2025,"month":9,"date":25,"utc":true}]}},
          "y": {"datum": 18.1, "type": "quantitative", "scale": {"domain": [-2.0, 18.61], "nice": false, "zero": false}}
        }
      },
      {
        "data": {"values": [{}]},
        "mark": {"type": "text", "text": "K", "color": "#c3c6cd", "fontSize": 12.5, "align": "left", "baseline": "middle"},
        "encoding": {
          "x": {"datum": {"year":2023,"month":4,"date":24,"utc":true}, "type": "temporal", "scale": {"type": "utc", "domain": [{"year":2021,"month":9,"date":29,"utc":true},{"year":2025,"month":9,"date":25,"utc":true}]}},
          "y": {"datum": 18.1, "type": "quantitative", "scale": {"domain": [-2.0, 18.61], "nice": false, "zero": false}}
        }
      },
      {
        "data": {"values": [{}]},
        "mark": {"type": "text", "text": "6.90", "color": "#f23645", "fontSize": 12.5, "align": "left", "baseline": "middle"},
        "encoding": {
          "x": {"datum": {"year":2023,"month":5,"date":4,"utc":true}, "type": "temporal", "scale": {"type": "utc", "domain": [{"year":2021,"month":9,"date":29,"utc":true},{"year":2025,"month":9,"date":25,"utc":true}]}},
          "y": {"datum": 18.1, "type": "quantitative", "scale": {"domain": [-2.0, 18.61], "nice": false, "zero": false}}
        }
      },
      {
        "data": {"values": [{}]},
        "mark": {"type": "text", "text": "−0.33 (−4.56%)", "color": "#f23645", "fontSize": 12.5, "align": "left", "baseline": "middle"},
        "encoding": {
          "x": {"datum": {"year":2023,"month":6,"date":13,"utc":true}, "type": "temporal", "scale": {"type": "utc", "domain": [{"year":2021,"month":9,"date":29,"utc":true},{"year":2025,"month":9,"date":25,"utc":true}]}},
          "y": {"datum": 18.1, "type": "quantitative", "scale": {"domain": [-2.0, 18.61], "nice": false, "zero": false}}
        }
      }
    ]
  }
]
}
